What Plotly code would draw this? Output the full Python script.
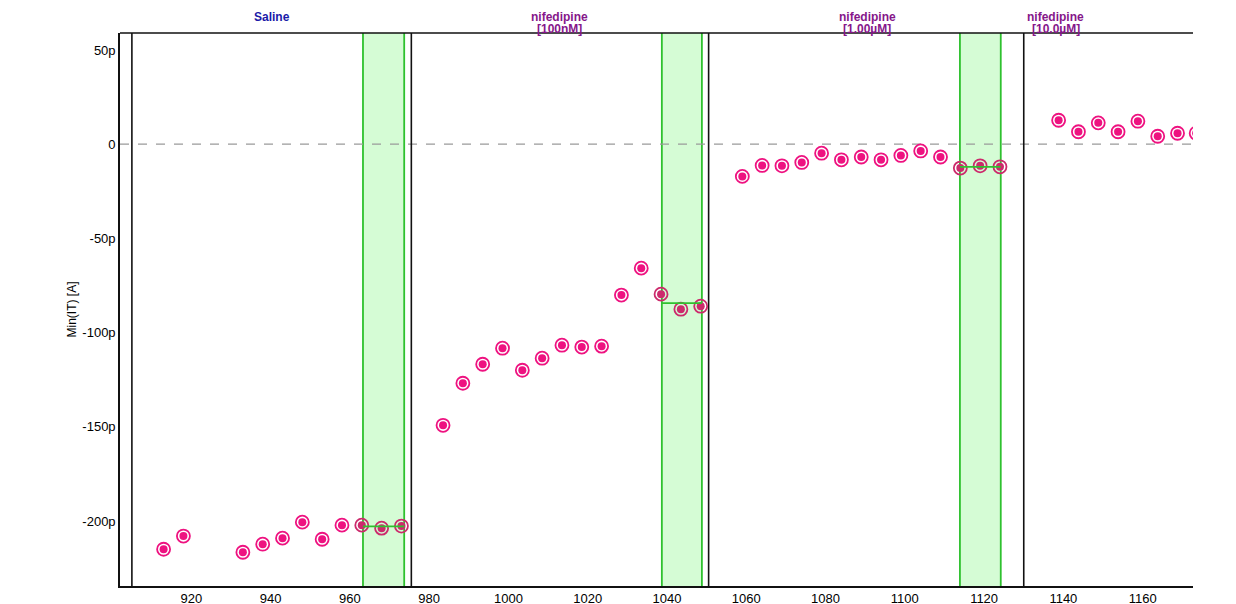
import plotly.graph_objects as go

# ---- data ----
seg_line1 = ["Saline", "nifedipine", "nifedipine", "nifedipine"]
seg_line2 = ["", "[100nM]", "[1.00µM]", "[10.0µM]"]
seg_label_x = [940.3, 1013.0, 1090.5, 1138.1]
seg_label_colors = ["#1a1aa8", "#86168a", "#86168a", "#86168a"]
seg_bounds = [905.0, 975.5, 1050.5, 1130.0]

sweep_x = [913, 918, 933, 938, 943, 948, 953, 958, 963, 968, 973,
           983.5, 988.5, 993.5, 998.5, 1003.5, 1008.5, 1013.5, 1018.5, 1023.5, 1028.5, 1033.5, 1038.5, 1043.5, 1048.5,
           1059, 1064, 1069, 1074, 1079, 1084, 1089, 1094, 1099, 1104, 1109, 1114, 1119, 1124,
           1138.8, 1143.8, 1148.8, 1153.8, 1158.8, 1163.8, 1168.8, 1173.5]
min_it_pA = [-215.0, -208.0, -216.6, -212.3, -209.1, -200.6, -209.7, -202.2, -202.2, -203.8, -202.7,
             -149.2, -126.9, -116.8, -108.3, -120.0, -113.6, -106.7, -107.7, -107.2, -80.1, -65.8, -79.6, -87.6, -86.0,
             -17.1, -11.3, -11.5, -9.7, -4.8, -8.3, -6.8, -8.3, -6.0, -3.6, -6.8, -12.7, -11.5, -12.0,
             12.7, 6.6, 11.3, 6.6, 12.2, 4.2, 5.8, 5.8]

bands = [(963.3, 973.7), (1038.7, 1048.8), (1113.9, 1124.2)]

y_ticks = [50, 0, -50, -100, -150, -200]
y_tick_text = ["50p", "0", "-50p", "-100p", "-150p", "-200p"]
x_ticks = [920, 940, 960, 980, 1000, 1020, 1040, 1060, 1080, 1100, 1120, 1140, 1160]

PINK = "#ee1280"
PINK_IN_BAND = "#cc2a6c"
GREEN = "#2ec12e"
FONT = "Liberation Sans, Arial"


def in_band(xx):
    return any(a - 0.5 <= xx <= b + 0.5 for a, b in bands)


marker_colors = [PINK_IN_BAND if in_band(xx) else PINK for xx in sweep_x]
x_plot = [xx + 0.25 for xx in sweep_x]  # none; kept identical positions below

fig = go.Figure()

# markers: outer ring (transparent fill) + inner dot
fig.add_trace(go.Scatter(x=sweep_x, y=min_it_pA, mode="markers",
                         marker=dict(size=13, color="rgba(0,0,0,0)",
                                     line=dict(color=marker_colors, width=1.8)),
                         hoverinfo="skip", showlegend=False))
fig.add_trace(go.Scatter(x=sweep_x, y=min_it_pA, mode="markers",
                         marker=dict(size=8, color=marker_colors, line=dict(width=0)),
                         showlegend=False))

# mean lines within bands (computed from data)
for (a, b) in bands:
    vals = [v for xx, v in zip(sweep_x, min_it_pA) if a - 0.5 <= xx <= b + 0.5]
    m = sum(vals) / len(vals)
    fig.add_trace(go.Scatter(x=[a, b], y=[m, m], mode="lines",
                             line=dict(color=GREEN, width=1.8), hoverinfo="skip", showlegend=False))

shapes = []
# green bands
for (a, b) in bands:
    shapes.append(dict(type="rect", xref="x", x0=a, x1=b, yref="paper", y0=0, y1=1,
                       fillcolor="#d5fcd5", line=dict(width=0), layer="below"))
    for e in (a, b):
        shapes.append(dict(type="line", xref="x", x0=e, x1=e, yref="paper", y0=0, y1=1,
                           line=dict(color=GREEN, width=1.8), layer="below"))
# dashed zero line
shapes.append(dict(type="line", xref="paper", x0=0, x1=1, yref="y", y0=0, y1=0,
                   line=dict(color="#9a9a9a", width=1.3, dash="dash"), layer="below"))
# segment boundaries
for b in seg_bounds:
    shapes.append(dict(type="line", xref="x", x0=b, x1=b, yref="paper", y0=0, y1=1,
                       line=dict(color="#111111", width=1.6), layer="below"))
# top border
shapes.append(dict(type="line", xref="paper", x0=0, x1=1, yref="paper", y0=1, y1=1,
                   line=dict(color="#111111", width=1.6), layer="above"))

annotations = []
for l1, l2, lx, col in zip(seg_line1, seg_line2, seg_label_x, seg_label_colors):
    annotations.append(dict(x=lx, xref="x", y=1, yref="paper", yanchor="middle", yshift=16,
                            text="<b>" + l1 + "</b>", showarrow=False,
                            font=dict(family=FONT, size=12, color=col)))
    if l2:
        annotations.append(dict(x=lx, xref="x", y=1, yref="paper", yanchor="middle", yshift=4,
                                text="<b>" + l2 + "</b>", showarrow=False,
                                font=dict(family=FONT, size=12, color=col)))

fig.update_layout(
    width=1236, height=604,
    margin=dict(l=112, r=51, t=25, b=26, autoexpand=False),
    paper_bgcolor="white", plot_bgcolor="white",
    font=dict(family=FONT, size=13, color="black"),
    shapes=shapes, annotations=annotations,
    xaxis=dict(range=[902.0, 1172.7], tickvals=x_ticks, showgrid=False, zeroline=False,
               showline=True, linecolor="#111111", linewidth=1.6, ticks="", automargin=False,
               tickfont=dict(size=13, color="black")),
    yaxis=dict(range=[-234.5, 59.0], tickvals=y_ticks, ticktext=y_tick_text, showgrid=False,
               zeroline=False, showline=True, linecolor="#111111", linewidth=1.6, ticks="",
               automargin=False,
               title=dict(text="Min(IT) [A]", standoff=3, font=dict(size=12)),
               tickfont=dict(size=13, color="black")),
    showlegend=False,
)

fig.write_html("out.html")
